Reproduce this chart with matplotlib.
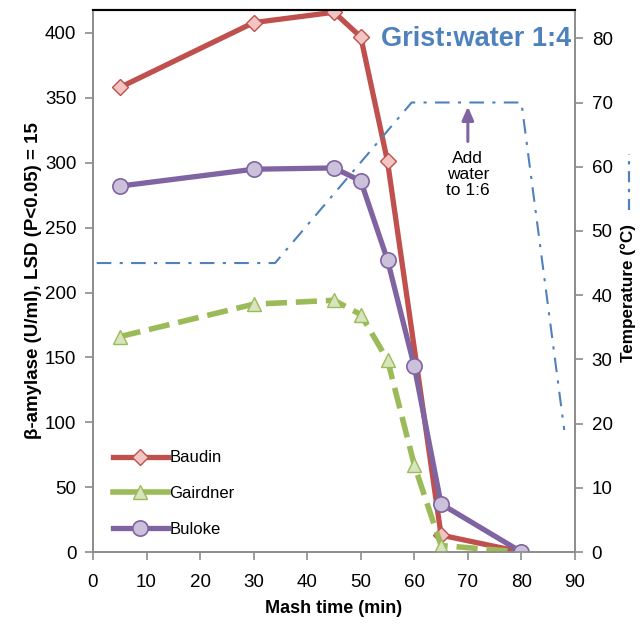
import matplotlib
matplotlib.use("Agg")
from matplotlib import pyplot as plt
from matplotlib.lines import Line2D

# beta-amylase activity (U/ml) during mashing
minutes = [5, 30, 45, 50, 55, 60, 65, 80]
baudin_t = [5, 30, 45, 50, 55, 65, 80]
baudin = [358, 408, 416, 397, 301, 13, 0]
gairdner = [166, 191, 194, 183, 148, 67, 5, 0]
buloke = [282, 295, 296, 286, 225, 143, 37, 0]

# mash temperature profile (degC)
temp_t = [0.7, 34, 59.5, 80, 88]
temp_c = [45, 45, 70, 70, 19]

x_ticks = list(range(0, 100, 10))
left_ticks = list(range(0, 450, 50))
right_ticks = list(range(0, 90, 10))

RED, RED_FACE = "#C0504D", "#F2C4C2"
GREEN, GREEN_FACE = "#9BBB59", "#D7E4BD"
PURPLE, PURPLE_FACE = "#8064A2", "#CCC1DA"
BLUE = "#4F81BD"
GREY = "#8C8C8C"

plt.rcParams["font.family"] = ["Liberation Sans", "DejaVu Sans"]

fig = plt.figure(figsize=(6.43, 6.27), dpi=100)
ax = fig.add_axes([0.1446, 0.1196, 0.7496, 0.8644])
ax2 = ax.twinx()

ax.plot(baudin_t, baudin, color=RED, lw=3.8, marker="D", ms=8,
        mfc=RED_FACE, mec=RED, mew=1.0, label="Baudin", zorder=3)
ax.plot(minutes, gairdner, color=GREEN, lw=4.0, ls=(0, (3.8, 1.6)), marker="^", ms=10,
        mfc=GREEN_FACE, mec=GREEN, mew=1.0, label="Gairdner", zorder=3)
ax.plot(minutes, buloke, color=PURPLE, lw=3.8, marker="o", ms=11,
        mfc=PURPLE_FACE, mec=PURPLE, mew=1.2, label="Buloke", zorder=4)

ax2.plot(temp_t, temp_c, color=BLUE, lw=1.5, ls=(0, (7, 4, 1.5, 4)))

ax.set_xlim(0, 90)
ax.set_ylim(0, 417.7)
ax2.set_ylim(0, 84.4)
ax.set_xticks(x_ticks)
ax.set_yticks(left_ticks)
ax2.set_yticks(right_ticks)

for a in (ax, ax2):
    for side in ("left", "right", "bottom"):
        a.spines[side].set_color(GREY)
        a.spines[side].set_linewidth(1.2)
    a.spines["top"].set_color("black")
    a.spines["top"].set_linewidth(1.5)
    a.tick_params(axis="both", colors=GREY, labelcolor="black", length=6,
                  width=1.2, labelsize=13.5, pad=6)
ax.tick_params(axis="x", pad=10)

ax.set_xlabel("Mash time (min)", fontsize=13, fontweight="bold", labelpad=6)
ax.set_ylabel("β-amylase (U/ml), LSD (P<0.05) = 15", fontsize=13.5,
              fontweight="bold", labelpad=2)
ax2.set_ylabel("Temperature (°C)", fontsize=12.3, fontweight="bold")
ax2.yaxis.set_label_coords(1.095, 0.478)

ax.text(0.993, 0.947, "Grist:water 1:4", transform=ax.transAxes, ha="right",
        va="center", color=BLUE, fontsize=19.5, fontweight="bold")

ax2.annotate("", xy=(70, 69.8), xytext=(70, 63.5),
             arrowprops=dict(arrowstyle="-|>,head_length=0.8,head_width=0.35",
                             color=PURPLE, lw=2.2))
ax2.text(70, 62.5, "Add\nwater\nto 1:6", ha="center", va="top", fontsize=12.5,
         linespacing=1.1)

# dash-dot key next to the right axis title
fig.add_artist(Line2D([0.979, 0.979], [0.665, 0.755], color=BLUE, lw=1.6,
                      ls=(0, (5, 3, 1.5, 3))))

leg = ax.legend(loc="lower left", bbox_to_anchor=(0.01, 0.0), frameon=False,
                handlelength=3.3, handletextpad=0.1, labelspacing=1.25,
                fontsize=12)
for h in leg.legend_handles:
    h.set_linestyle("-")

fig.savefig("out.png", dpi=100)
